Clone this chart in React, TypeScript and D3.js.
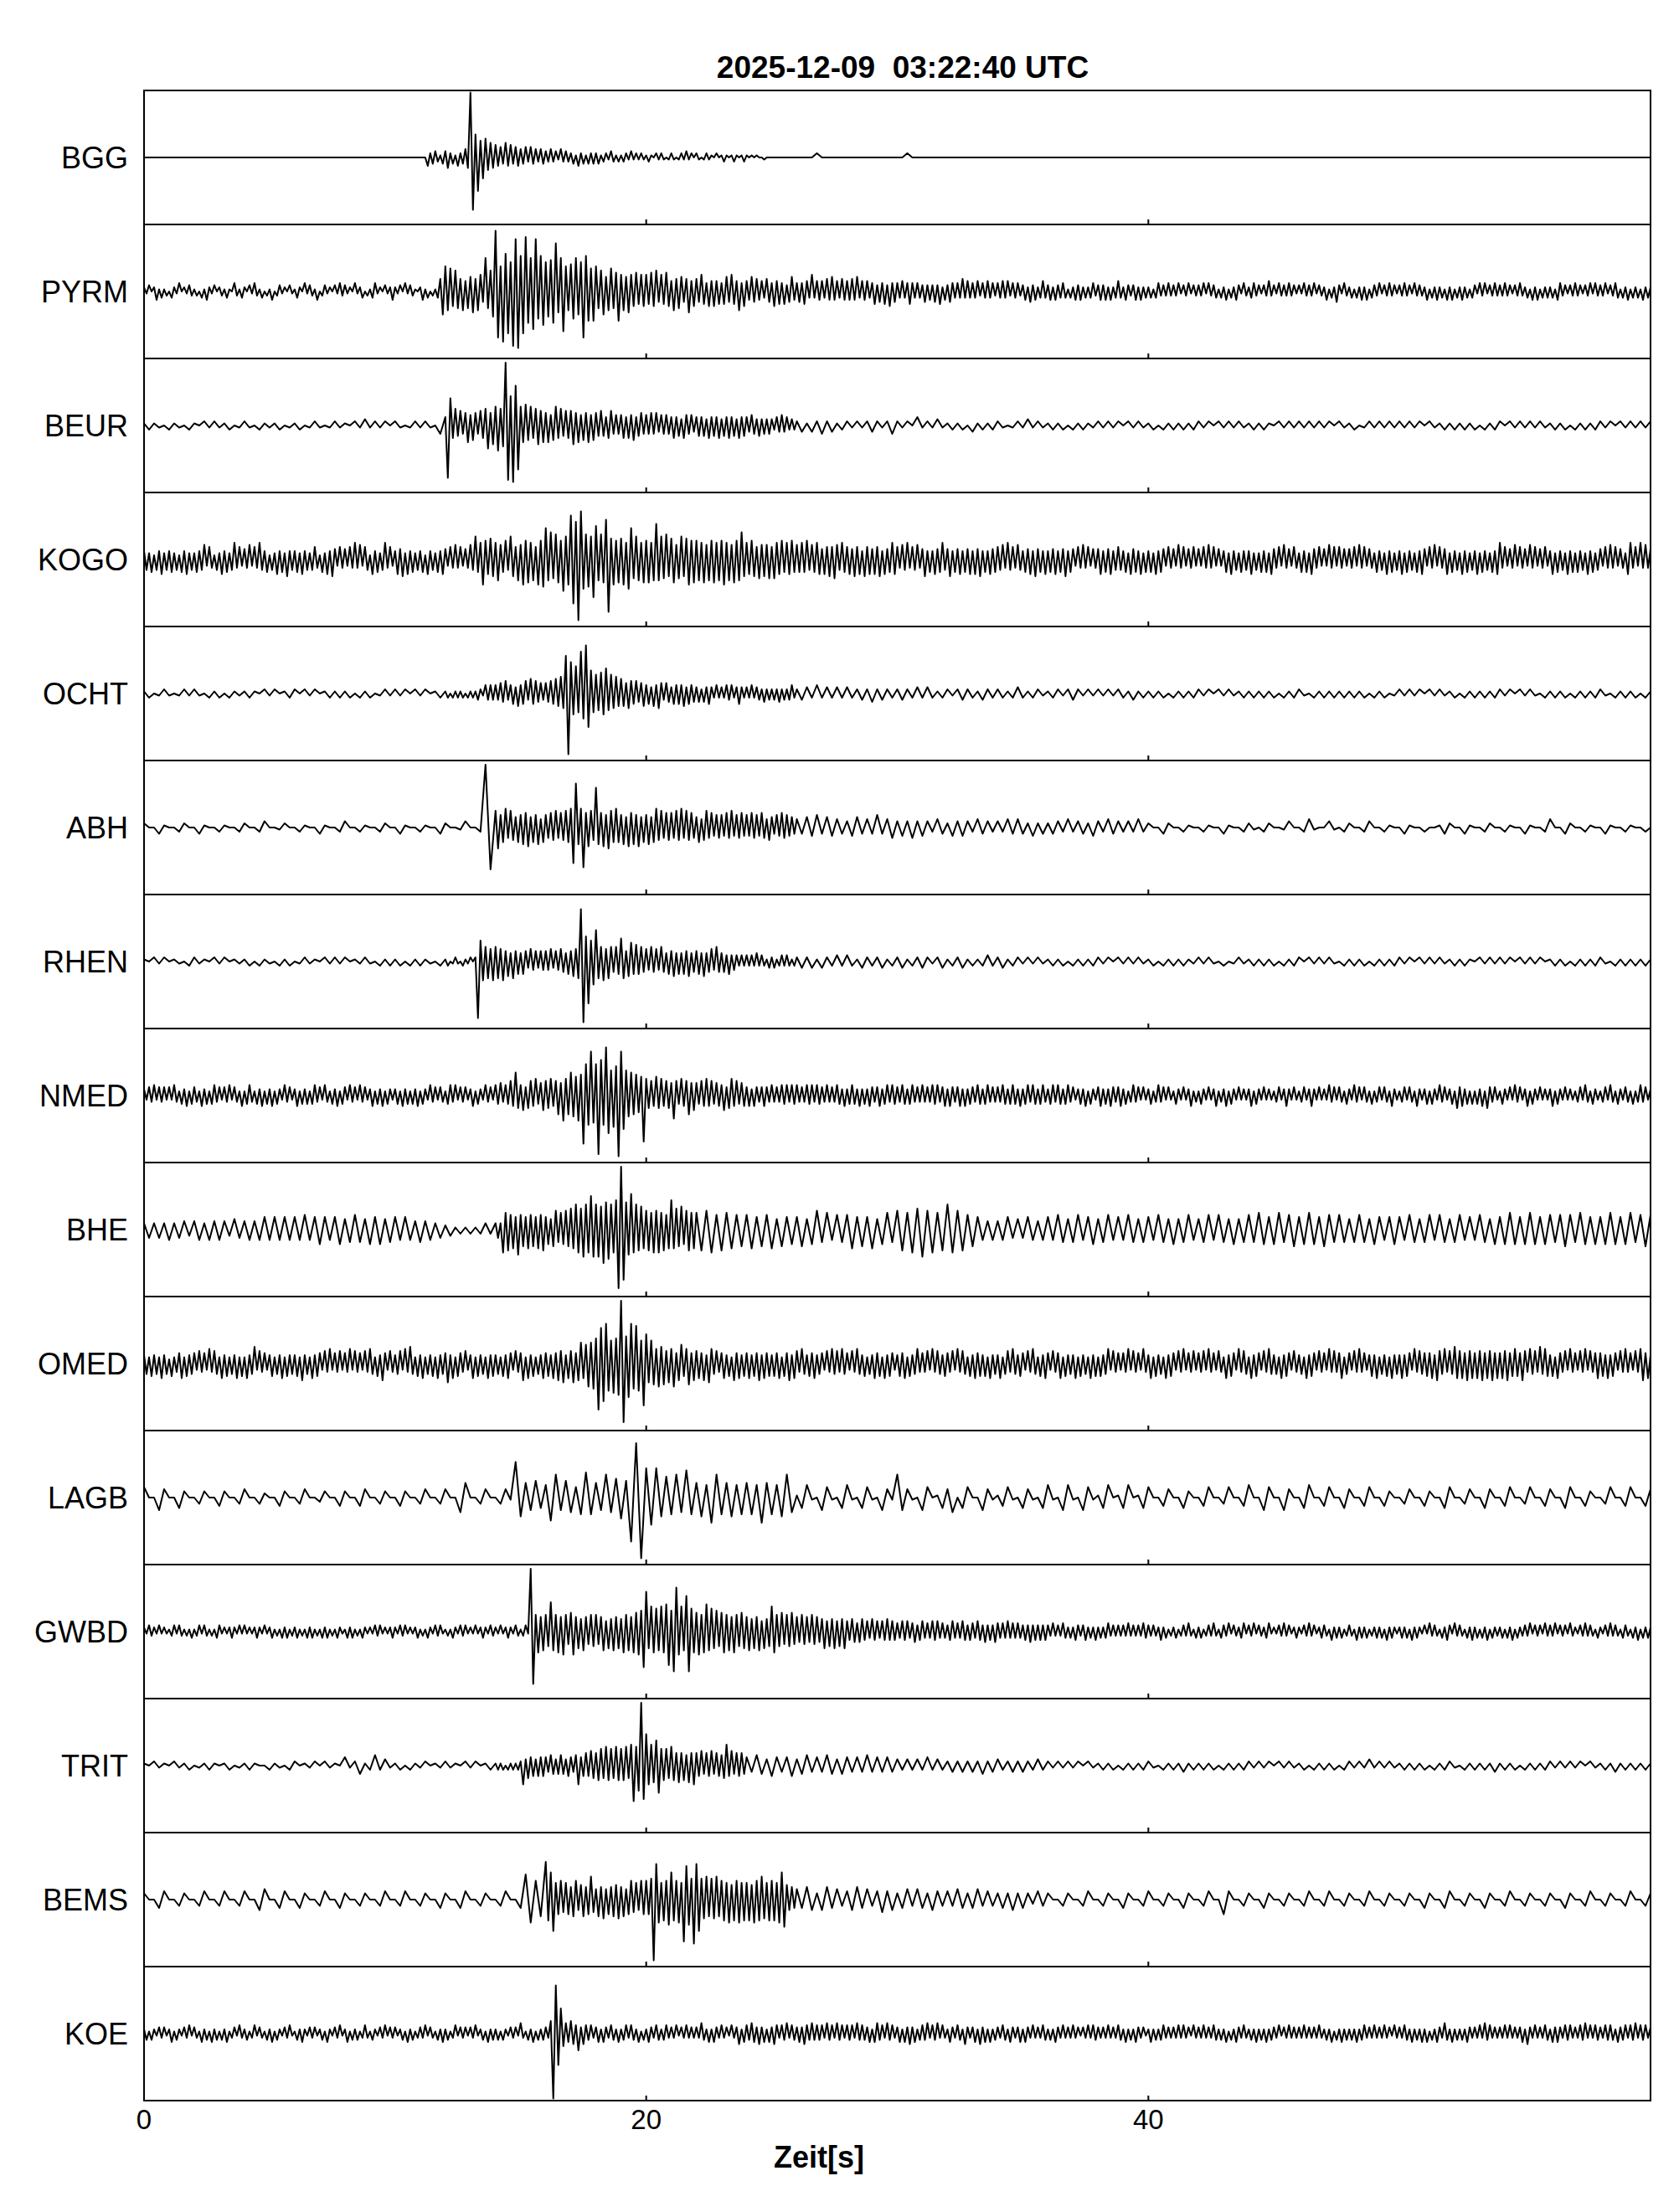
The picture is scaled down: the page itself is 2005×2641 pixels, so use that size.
import * as d3 from 'd3';

const chartTitle = '2025-12-09  03:22:40 UTC';
const axisTitle = 'Zeit[s]';
const stations = ['BGG', 'PYRM', 'BEUR', 'KOGO', 'OCHT', 'ABH', 'RHEN', 'NMED', 'BHE', 'OMED', 'LAGB', 'GWBD', 'TRIT', 'BEMS', 'KOE'];
const timeTicks = [0, 20, 40];
const timeDomain = [0, 60];
const ampDomain = [-32, 32];
const blockSpan = 2; // seconds covered by one block of samples

// one char per sample = peak size (base 36),
// polarity alternates up/down; each block is 2 s (10 or 20 samples)
const bggTrace = `
0000000000 0000000000 0000000000 0000000000 0000000000
00000000000004233213 3523142345vpbg8a9675 64537463544352534243 32423142322314231323 23122132121221312121
12102121012101213120 21012110201210121012 10101001000000000000 0000200000 0000000000
0020000000 0000000000 0000000000 0000000000 0000000000
0000000000 0000000000 0000000000 0000000000 0000000000
0000000000 0000000000 0000000000 0000000000 00000000000`;
const pyrmTrace = `
21302413120321402132 12031421302213104213 20314213021402312031 13204132140231203142 31204123021341203124
2130413210241302136b c9b7a869587a6985g8ac tmcoikeqprhkqfgipdhg ecffnagjc9ddgbemhebe c8ab79b89e897a879687
8697a586975968756a57 65864757564675865947 54756453654756463574 45465383545364745364 54647354534635463745
43534643433534353624 35434363534352435342 43535243423425342353 34243343132434232342 34342423532432342423
23134232423241324132 32414233132413243142 23423132523142324231 31423241322413253142 23132424133241324231
32423142322413242314 24132423133142413242 32423132422314241323 23144231324231324142 324132431324132314232`;
const beurTrace = `
1211021102 1021211201 2102111201 1201210121 1021312120
2101212104 4pd68574685764768b69 9c8auqerjl98a7968978 68579685767968576857 65754674545646574564
54646354544645365453 45453645463546453645 43543534343243534232 2313242312 2121232124
2120412131 1212031212 2101213121 1212021211 2121202121
1202121212 2120212121 1212102121 2121212021 1201212121
2121202112 1212120212 2021212121 1212021212 21202121212`;
const kogoTrace = `
45362547354635264735 36457364253746358463 54736485462537463845 46374535642637485364 53648473652746358463
47583746354627453647 536474635475b68c97a8 8a7695b86a7c9b8a6c9d fad9cb9fbcllitnecdbi gacbjpac9bac8ef9ba8b
9b8ahab9c8ab79b8ac9b 9a8b7a9b8a9c8a7b9ad8 87986978796987968796 76869576875768697586 67586748675768475687
64758465745846475685 58465746574758464756 65748564754657485647 46574658465364746354 57465745654637564736
46374653645374635463 53647463534637453645 47353646375463745364 36463754635374636453 54637463543645374635
47364536475364736457 36453746354736453647 84635473645374635463 47364537463645374635 536474635437846384745`;
const ochtTrace = `
1201210121 2102120211 1210212012 2021201212 1202120121
2120212012 12021212021213214343 43546345364563756453 54657687itfad9kcngb9 98aac897867657656456
45364753543545463544 34243532423243423532 32423324232324232342 2332423232 3223242322
2322323212 2123221322 2212321221 1221232121 2121221312
1212021212 2120212112 1212120212 2102121212 1212021201
2121202121 1202121212 2120212102 1212021212 21021212021`;
const abhTrace = `
2003100220 0310021002 2002300120 0210031002 3002100220
0310021003 20013002uk 8a679586576879576847 65768576879hl89j7986 j8796a87976859786957
68579685767586958675 57468574656475846574 64756475465364756453 4354635443 3453436345
3435343243 2434324332 3243432423 2332423324 3243323242
2003200210 0210031002 2102200130 0241003102 2002300210
0310020013 2003100220 0210031002 4003200210 03100210020`;
const rhenTrace = `
1021201102 2110212011 1202110212 0121102121 2011210212
1202121102 1201210211202ra97869 78695748564653645354 54635465465768ptckab f879687576b857968675
64756475465746465745 56474564754536343232 32324232132312323212 2323132232 3213222312
2312232123 1223121232 2312212121 1212021212 2120212121
1202121211 2121020121 1212120212 2021212102 1212021212
2120212121 1212102121 2120212120 1212021212 21021212121`;
const nmedTrace = `
32435243424253243524 43253424534243524325 24532435243524325342 35243424534253243524 42534253423524352432
34253424352432534243 24535243423524325342 54635475b65746758467 7685796c89ba9canfeld fshenicfetlgcab9a89m
86759685766b74857967 64758574655746857465 45354345435343545354 53435453544353435435 34543534354345345354
43543453435343545345 35434535344354345343 43543454353453543453 34535434534234352432 45343543453423534242
34235342422432423523 24324235233524324232 35243242322342353242 23423532423253424324 32534243242342432532
23424325323424325342 34264534242435264342 24324253423524324232 35243242322342532432 234253243243242353423`;
const bheTrace = `
3434353443 4535454354 4545656565 6575676567 5676576756
6565464534 2312121232 343b8a796c786978697a 6758968798a9cbadcbgd cdbgdecbesuodchbcab9
9a8b9b8a79e9a8b79a89 8a9b7a8978 7968795867 6857968576 7968695786
9a8bad9b8a cb9a786545 4564546545 6576567567 5675657656
6576575675 5675765756 7687678678 6787687676 5676576567
6576567576 5675657657 6787678767 7678768767 67876786787`;
const omedTrace = `
45364537452634573645 53645374653746354736 37458364534635473645 46384537465364735463 54736453647536485364
45637485364735463745 59473654634736453746 45364753645837463547 56475869476958a79bac cmhijdbecfusdgjcidbk
e9ba7b8a697b58967a58 67584975645746385746 57465847564657365847 64754657455364756475 53647546354756374653
46573645745463746546 54637465364756463745 47356475465364753647 53645736454736453746 36457364535473645374
47364537465364735463 54637453643746537465 37465364754537465364 45374653645374645735 53647453464735463745
47465374655657486574 65876758675768576857 57685676586475648576 46375463745364736457 564746536474536478574`;
const lagbTrace = `
5006400530 0330043003 4003200430 0340023004 3004400330
0430034003 4007700340 0341h97685 6bb68758c8 76b79a8lqt
ede9a8b7d8 796cb87968 786c7869b7 1561065105 6105510641
b641065015 4705500641 1451054105 6106610651 1560156015
5004400530 0450035004 6006500640 0560045005 4004500430
0340043005 5003400540 0450035004 4005500430 03500450044`;
const gwbdTrace = `
21322131211231321213 12313212133121232131 31212321312312132312 23121323121323121321 13231213212132312123
21323121231213213231 12132132312131232132 21312321321231up8a79 87e98a7b869b78697687 86795869786a897a9bah
j8cab9cadgajlbc9hjba 9b8ad9b8a79a897a8798 7968795867ca87968796 75867586756857685768 54654564536453546454
43545345345343545343 34534354344354353435 43435343433435343434 32423243232432342324 23234232323242323243
32322423122312324213 23123242133241322341 32413223412132423123 21324231233214232312 32142323122323142321
23231423213142321324 31423213242313241322 23132413223241323142 32413231422132423213 213242321332132413232`;
const tritTrace = `
1021102112 0112101201 1210021102 2011202110 4124125231
1202112011 2110212012 12120212122936453545 43543454354359456576 67869786978796ah9cug
f9a8cd87869768675869 657465746556a5746564 4354354345 3453435434 4343534343
3232324232 2323232423 3223232232 2121212021 1212021212
2102121312 1212021212 2121202121 1202121202 2121312121
1212120212 2102121213 1212021212 2121212021 12131212121`;
const bemsTrace = `
3004400330 0340034003 4005500440 0430034004 3003300340
0340033004 3004400330 034004cb98 iadf87968768957867b6 58695768796857968597
97athb8a9cda9b8kgcal hfa9b8a9b89a8b7a9b8a 8a7b9ab98a9a8bdd7564 5465356453 4564534645
3453543543 4354345343 3435343243 3003300340 0330043003
4003300430 0340074003 3004300330 0340034003 3003400330
0330043004 4003300430 0340033003 3004300340 03300340033`;
const koeTrace = `
23132132312413213241 32142314231324123142 23124132132413213241 13242132312314213241 24132312421321324132
31231423123241321324 23124132313241231423 23132132315213241323 326vnfc6546548354342 34243243242342432413
24324323423241324232 32532424324231423524 43543534243542435243 34354353434253425342 43425343342453425342
34243534234352435242 24324325323425342423 32432432342432423243 23243242324231324243 32324232432423243231
24232342323242423142 32423243232413243242 23242324233241324232 32423232422324132423 23242342324232423142
32432423242413243253 24232324323242534232 32424232342532423243 24343243423243524243 324343243342435243423`;

const traces = [bggTrace, pyrmTrace, beurTrace, kogoTrace, ochtTrace, abhTrace, rhenTrace, nmedTrace,
  bheTrace, omedTrace, lagbTrace, gwbdTrace, tritTrace, bemsTrace, koeTrace];

type Sample = { t: number; v: number };

function decode(trace: string): Sample[] {
  const out: Sample[] = [];
  trace.trim().split(/\s+/).forEach((block, b) => {
    const n = Math.floor(block.length / 10) * 10;
    const step = blockSpan / n;
    for (let j = 0; j < block.length; j++) {
      const a = parseInt(block[j], 36);
      out.push({ t: b * blockSpan + j * step, v: j % 2 === 0 ? a : -a });
    }
  });
  return out;
}

const W = 2005;
const H = 2641;
const plot = { left: 172, right: 1971, top: 108, rowH: 160 };

export default function App() {
  const x = d3.scaleLinear().domain(timeDomain).range([plot.left, plot.right]);
  const row = d3.scaleBand<string>()
    .domain(stations)
    .range([plot.top, plot.top + plot.rowH * stations.length]);
  const bw = row.bandwidth();
  const amp = d3.scaleLinear().domain(ampDomain).range([bw / 2, -bw / 2]);
  const line = d3.line<Sample>().x(d => x(d.t)).y(d => amp(d.v));
  const bottom = plot.top + bw * stations.length;

  return (
    <svg width={W} height={H} style={{ position: 'absolute', left: 0, top: 0 }}
      fontFamily="'Liberation Sans', Arial, Helvetica, sans-serif">
      <rect x={0} y={0} width={W} height={H} fill="#fff" />
      <text x={1078} y={93} textAnchor="middle" fontSize={37} fontWeight="bold"
        xmlSpace="preserve" style={{ whiteSpace: 'pre' }}>{chartTitle}</text>

      {stations.map((s, i) => {
        const y0 = row(s) as number;
        const cy = y0 + bw / 2;
        return (
          <g key={s}>
            <text x={153} y={cy + 13} textAnchor="end" fontSize={36}>{s}</text>
            <path d={line(decode(traces[i])) || ''} transform={`translate(0,${cy})`}
              fill="none" stroke="#000" strokeWidth={2} strokeLinejoin="round" />
            <line x1={plot.left} x2={plot.right} y1={y0 + bw} y2={y0 + bw} stroke="#000" strokeWidth={2} />
            {timeTicks.filter(t => t > timeDomain[0]).map(t => (
              <line key={t} x1={x(t)} x2={x(t)} y1={y0 + bw} y2={y0 + bw - 6} stroke="#000" strokeWidth={2} />
            ))}
          </g>
        );
      })}

      <rect x={plot.left} y={plot.top} width={plot.right - plot.left} height={bottom - plot.top}
        fill="none" stroke="#000" strokeWidth={2} />

      {timeTicks.map(t => (
        <text key={t} x={x(t)} y={bottom + 34} textAnchor="middle" fontSize={33}>{t}</text>
      ))}
      <text x={978} y={bottom + 80} textAnchor="middle" fontSize={36} fontWeight="bold">{axisTitle}</text>
    </svg>
  );
}
